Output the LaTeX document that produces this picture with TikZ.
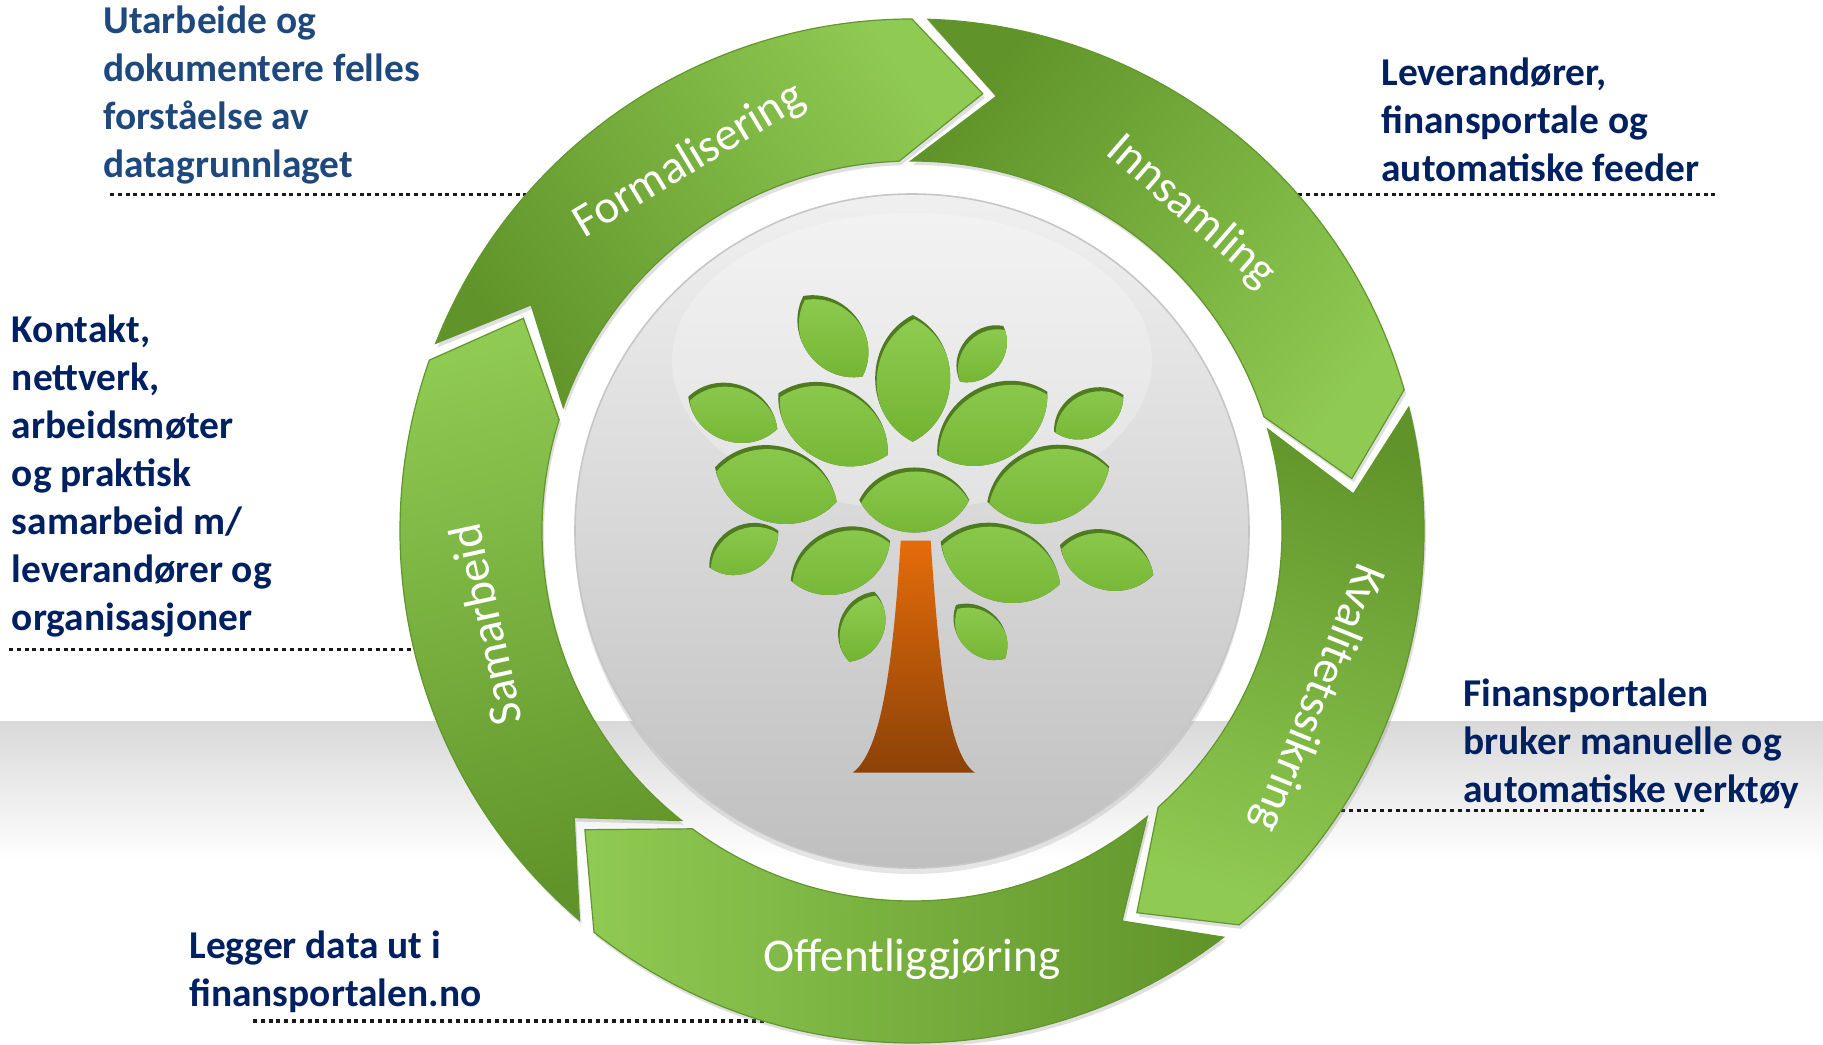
\documentclass[tikz,border=0pt]{standalone}
\usepackage{fontspec}
\setmainfont{Carlito}
\usetikzlibrary{shadows}
\definecolor{seglight}{RGB}{143,202,82}
\definecolor{segdark}{RGB}{96,148,42}
\definecolor{segline}{RGB}{98,150,45}
\definecolor{leaflight}{RGB}{142,204,80}
\definecolor{leafdark}{RGB}{114,178,48}
\definecolor{leafrim}{RGB}{78,122,32}
\definecolor{trunktop}{RGB}{228,108,10}
\definecolor{trunkbot}{RGB}{140,66,8}
\definecolor{noteblue}{RGB}{31,73,125}
\definecolor{notenavy}{RGB}{0,32,96}
\begin{document}
\begin{tikzpicture}
	[
		x=0.5pt, y=0.5pt,
		segment/.style = {
			bottom color=segdark, top color=seglight,
			draw=segline, line width=0.6pt,
			drop shadow={shadow xshift=1pt, shadow yshift=-2pt, opacity=.25}
		},
		seglabel/.style = {text=white, inner sep=0pt, font=\fontsize{23.5}{28}\selectfont},
		note/.style = {
			anchor=base west, align=left, inner sep=0pt, text=notenavy,
			font=\bfseries\fontsize{19.7}{24}\selectfont
		},
		leader/.style = {draw=gray!20!black, line width=1.65pt, dash pattern=on 2pt off 1.9pt},
		disc/.style = {top color=gray!12, bottom color=gray!50, draw=gray!45, line width=0.8pt},
		leafshade/.style = {top color=leaflight, bottom color=leafdark},
		trunk/.style = {top color=trunktop, bottom color=trunkbot}
	]
	% background
	\useasboundingbox (-912,-513) rectangle (911,531);
	\fill[white] (-912,-513) rectangle (911,531);
	\shade[top color=gray!30, bottom color=white] (-912,-190) rectangle (911,-330);

	% leader lines
	\coordinate (l1a) at (-802,336.5); \coordinate (l1b) at (-386,336.5);
	\coordinate (l2a) at (386,336.5);  \coordinate (l2b) at (803,336.5);
	\coordinate (l3a) at (-903,-118.7); \coordinate (l3b) at (-498,-118.7);
	\coordinate (l4a) at (429,-279.3); \coordinate (l4b) at (795.5,-279.3);
	\coordinate (l5a) at (-659,-490);  \coordinate (l5b) at (-148,-490);
	\draw[leader] (l1a) -- (l1b);
	\draw[leader] (l2a) -- (l2b);
	\draw[leader] (l3a) -- (l3b);
	\draw[leader] (l4a) -- (l4b);
	\draw[leader] (l5a) -- (l5b);

	% centre disc
	\shade[disc, drop shadow={shadow xshift=0pt, shadow yshift=-3pt, opacity=.2}] (0,0) circle (337);
	\fill[white, opacity=.25] (0,170) ellipse [x radius=240, y radius=148];

	% leaves
	\foreach \xa/\ya/\xb/\yb/\w in {
		-108.7/235/-49.3/154.3/60, 0.7/216/0.7/89.3/75, 91.3/205/48/149.3/42,
		-223.7/134.3/-134.7/102/57, -133.7/137.7/-24.3/76/75, 135.3/139.3/25.3/76/75,
		211.3/136/142/99.3/47, -197/63.7/-75.3/29.3/76, -52.7/31/57.3/31/65,
		197.3/64.3/75.3/29.3/76, -133.7/0.3/-202.7/-36.3/47, -22/-9.7/-121.3/-49.7/64,
		28.7/-10.7/148/-53/76, 148/-14/241.3/-44/59, -37.7/-60.7/-62.7/-130.7/45,
		44/-74/93/-127.7/43}
	{
		\pgfmathsetmacro\ang{atan2((\yb)-(\ya),(\xb)-(\xa))}
		\pgfmathsetmacro\len{veclen((\xb)-(\xa),(\yb)-(\ya))}
		\begin{scope}
			\clip[shift={(\xa,\ya)}, rotate=\ang] (0,0)
				.. controls (0.2*\len,0.667*\w) and (0.8*\len,0.667*\w) .. (\len,0)
				.. controls (0.8*\len,-0.667*\w) and (0.2*\len,-0.667*\w) .. cycle;
			\fill[leafrim] (\xa-150,\ya-150) rectangle (\xa+150,\ya+150);
			\shade[leafshade, shift={(\xa+1.5,\ya-4)}, rotate=\ang] (0,0)
				.. controls (0.2*\len,0.667*\w) and (0.8*\len,0.667*\w) .. (\len,0)
				.. controls (0.8*\len,-0.667*\w) and (0.2*\len,-0.667*\w) .. cycle;
		\end{scope}
	}

	% trunk
	\shade[trunk] (-11.3,-9.7) -- (18.7,-9.7)
		.. controls (28,-150) and (38,-225) .. (63,-241.7) -- (-59.3,-241.7)
		.. controls (-33,-222) and (-20,-150) .. cycle;

	% ring of arrows: tail / head / shading angle
	\foreach \t/\h/\sa in {229.5/160.5/15, 158.5/90/-55.75, 88.2/16/-127.9,
		14/-50.3/161.85, -52.5/-128.4/89.55}
	{
		\shade[segment, shading angle=\sa] (\t:512)
			arc[start angle=\t, end angle=\h, radius=512]
			-- ({\h-9.2}:443) -- ({\h+2}:370)
			arc[start angle=\h+2, end angle=\t+2, radius=370]
			-- ({\t-9.2}:443) -- cycle;
	}

	\node[seglabel, rotate=102.4] (samarbeid) at (192.4:437) {Samarbeid};
	\node[seglabel, rotate=31] (formal) at (121:432) {Formalisering};
	\node[seglabel, rotate=-41] (innsamling) at (48.8:424) {Innsamling};
	\node[seglabel, rotate=-112] (kval) at (-22.4:438) {Kvalitetssikring};
	\node[seglabel] (offentlig) at (-90:428) {Offentliggjøring};

	% notes (placed at the baseline of their last line)
	\node[note, text=noteblue] (formaltxt) at (-809,353)
		{Utarbeide og\\dokumentere felles\\forståelse av\\datagrunnlaget};
	\node[note] (innsamltxt) at (469,349)
		{Leverandører,\\finansportale og\\automatiske feeder};
	\node[note] (samarbtxt) at (-900.4,-99)
		{Kontakt,\\nettverk,\\arbeidsmøter\\og praktisk\\samarbeid m/\\leverandører og\\organisasjoner};
	\node[note] (kvaltxt) at (551,-271)
		{Finansportalen\\bruker manuelle og\\automatiske verktøy};
	\node[note] (offtxt) at (-723,-475)
		{Legger data ut i\\finansportalen.no};
\end{tikzpicture}
\end{document}
